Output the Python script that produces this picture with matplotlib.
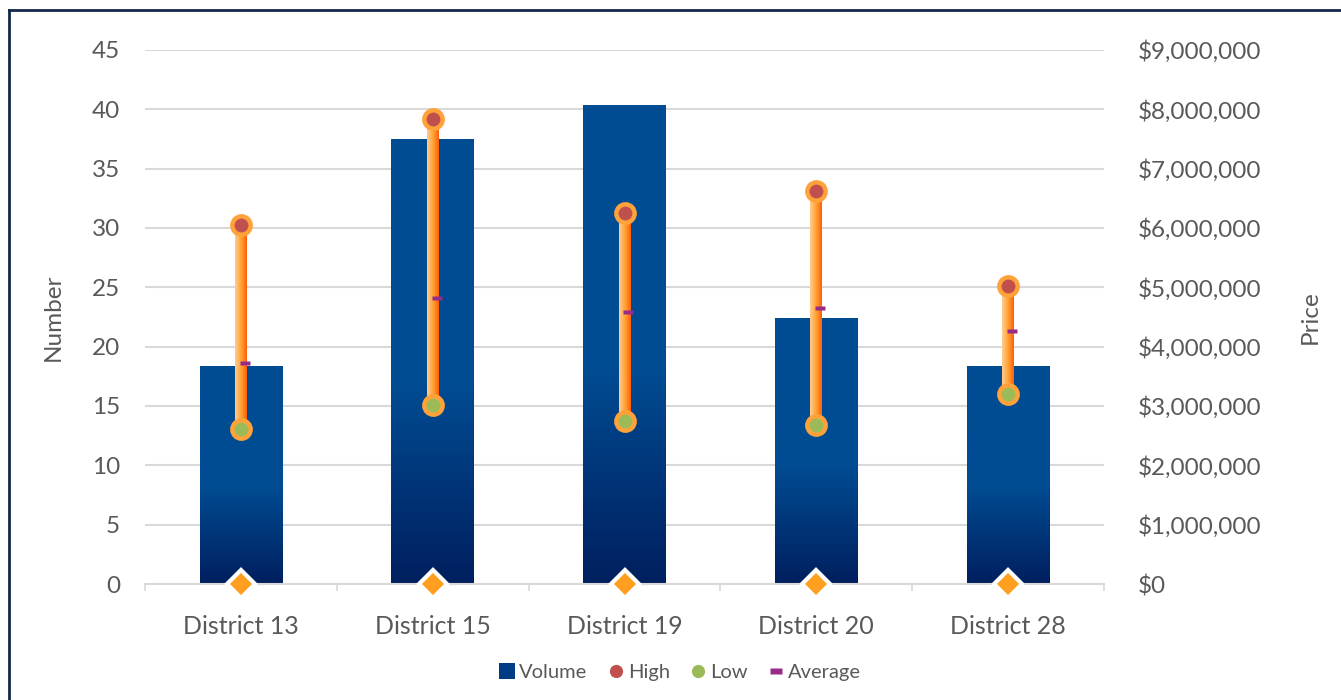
"""District volume vs. price range chart (bars = volume, high/low sticks = price)."""

import matplotlib

matplotlib.use("Agg")
import matplotlib.pyplot as plt  # noqa: E402
import numpy as np  # noqa: E402
from matplotlib.colors import LinearSegmentedColormap  # noqa: E402
from matplotlib.lines import Line2D  # noqa: E402
from matplotlib.patches import Patch, Rectangle  # noqa: E402
from matplotlib.ticker import FuncFormatter, MultipleLocator  # noqa: E402

DISTRICTS = ["District 13", "District 15", "District 19", "District 20", "District 28"]
VOLUME = [18.4, 37.5, 40.4, 22.4, 18.4]
HIGH = [6_050_000, 7_840_000, 6_260_000, 6_630_000, 5_030_000]
LOW = [2_610_000, 3_020_000, 2_750_000, 2_680_000, 3_200_000]
AVERAGE = [3_730_000, 4_820_000, 4_590_000, 4_650_000, 4_270_000]

TEXT = "#595959"
GRID = "#D9D9D9"
BAR_TOP = "#004C93"
BAR_BOTTOM = "#001F5E"
RED = "#C0504D"
GREEN = "#9BBB59"
PURPLE = "#962B8A"
RING = "#FFA23A"
FRAME = "#14284B"
FS = 17.5

plt.rcParams["font.family"] = ["Lato", "DejaVu Sans"]


def _money(v: float, _pos: int) -> str:
    return f"${v:,.0f}"


def main() -> None:
    fig = plt.figure(figsize=(13.41, 7.0), dpi=100)
    ax = fig.add_axes([0.1081, 0.1657, 0.7152, 0.7629])
    ax2 = ax.twinx()

    x = np.arange(len(DISTRICTS))
    bar_w = 0.43

    # volume bars: flat blue on top, darkening towards the base
    bar_cmap = LinearSegmentedColormap.from_list(
        "bar", [(0.0, BAR_BOTTOM), (0.45, BAR_TOP), (1.0, BAR_TOP)])
    grad_v = np.linspace(0, 1, 256).reshape(-1, 1)
    for xi, h in zip(x, VOLUME):
        rect = Rectangle((xi - bar_w / 2, 0), bar_w, h, facecolor="none",
                         edgecolor="none", zorder=2)
        ax.add_patch(rect)
        im = ax.imshow(grad_v, cmap=bar_cmap, origin="lower", aspect="auto",
                       extent=[xi - bar_w / 2, xi + bar_w / 2, 0, h], zorder=2)
        im.set_clip_path(rect)

    ax.set_xlim(-0.5, len(DISTRICTS) - 0.5)
    ax.set_ylim(0, 45)
    ax.yaxis.set_major_locator(MultipleLocator(5))
    ax.set_axisbelow(True)
    ax.grid(True, axis="y", color=GRID, linewidth=1.5)
    for s in ["top", "left", "right"]:
        ax.spines[s].set_visible(False)
    ax.spines["bottom"].set_color(GRID)
    ax.spines["bottom"].set_linewidth(1.5)

    ax.set_xticks(x)
    ax.set_xticklabels(DISTRICTS)
    ax.set_xticks(np.arange(-0.5, len(DISTRICTS)), minor=True)
    ax.tick_params(axis="x", which="major", length=0, pad=22, labelsize=FS + 0.5,
                   labelcolor=TEXT)
    ax.tick_params(axis="x", which="minor", length=5, color=GRID, width=1.2)
    ax.tick_params(axis="y", length=0, pad=18, labelsize=FS, labelcolor=TEXT)
    ax.set_ylabel("Number", fontsize=FS, color=TEXT, labelpad=20)

    # price axis: high-low sticks
    ax2.set_ylim(0, 9_000_000)
    ax2.yaxis.set_major_locator(MultipleLocator(1_000_000))
    ax2.yaxis.set_major_formatter(FuncFormatter(_money))
    ax2.tick_params(axis="y", length=0, pad=24, labelsize=FS, labelcolor=TEXT)
    for s in ["top", "left", "right", "bottom"]:
        ax2.spines[s].set_visible(False)
    ax2.set_ylabel("Price", fontsize=FS, color=TEXT, labelpad=28)

    stick_cmap = LinearSegmentedColormap.from_list(
        "stick", ["#FFCC96", "#FFA531", "#FF5E0E"])
    grad_h = np.linspace(0, 1, 64).reshape(1, -1)
    stick_w = 0.062
    for xi, lo, hi in zip(x, LOW, HIGH):
        ax2.imshow(grad_h, cmap=stick_cmap, origin="lower", aspect="auto",
                   extent=[xi - stick_w / 2, xi + stick_w / 2, lo, hi], zorder=3)

    ax2.plot(x, HIGH, linestyle="none", marker="o", markersize=13.2,
             markerfacecolor=RED, markeredgecolor=RING, markeredgewidth=3.2, zorder=5)
    ax2.plot(x, LOW, linestyle="none", marker="o", markersize=13.2,
             markerfacecolor=GREEN, markeredgecolor=RING, markeredgewidth=3.2, zorder=5)
    dash = [(-1, -0.45), (1, -0.45), (1, 0.45), (-1, 0.45), (-1, -0.45)]
    ax2.plot(x + 0.02, AVERAGE, linestyle="none", marker=dash, markersize=7.5,
             markerfacecolor=PURPLE, markeredgecolor="none", zorder=6)
    ax2.plot(x, [0] * len(x), linestyle="none", marker="D", markersize=14.5,
             markerfacecolor="#FF9F1F", markeredgecolor="white", markeredgewidth=3.0,
             zorder=7, clip_on=False)
    ax2.set_xlim(-0.5, len(DISTRICTS) - 0.5)

    handles = [
        Patch(facecolor="#003C85", edgecolor="none"),
        Line2D([], [], linestyle="none", marker="o", markersize=9.5,
               markerfacecolor=RED, markeredgecolor="none"),
        Line2D([], [], linestyle="none", marker="o", markersize=9.5,
               markerfacecolor=GREEN, markeredgecolor="none"),
        Line2D([], [], linestyle="none", marker=dash, markersize=8.5,
               markerfacecolor=PURPLE, markeredgecolor="none"),
    ]
    leg = fig.legend(handles, ["Volume", "High", "Low", "Average"], ncol=4,
                     loc="center", bbox_to_anchor=(0.507, 0.04), frameon=False,
                     fontsize=14.5, handlelength=0.8, handleheight=0.8,
                     handletextpad=0.2, columnspacing=1.0)
    for t in leg.get_texts():
        t.set_color(TEXT)

    # dark frame along the top and left edges
    fig.add_artist(Line2D([9 / 1341, 1.0], [1 - 10 / 700, 1 - 10 / 700],
                          transform=fig.transFigure, color=FRAME, linewidth=2.0))
    fig.add_artist(Line2D([9 / 1341, 9 / 1341], [0.0, 1 - 10 / 700],
                          transform=fig.transFigure, color=FRAME, linewidth=2.0))

    fig.savefig("out.png", dpi=100)
    plt.close(fig)


if __name__ == "__main__":
    main()
